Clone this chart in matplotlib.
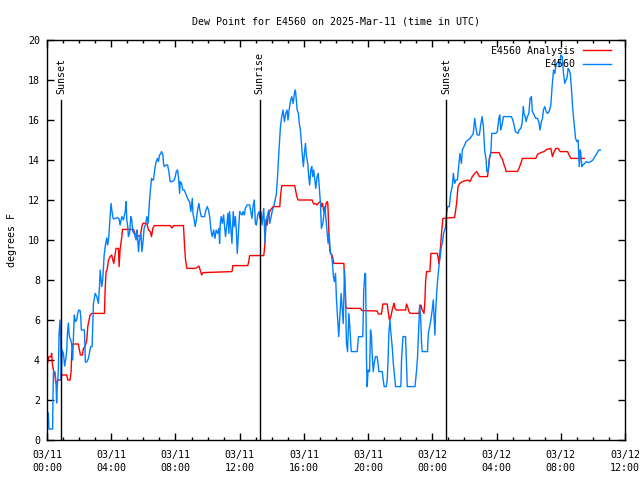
import matplotlib
matplotlib.use("Agg")
import matplotlib.pyplot as plt
import matplotlib.dates as mdates
import pandas as pd

# dew point readings (hours after 2025-03-11 00:00 UTC, deg F)
obs_hours = [
    0.08, 0.12, 0.35, 0.37, 0.40, 0.50, 0.56, 0.60, 0.64, 0.71, 0.75, 0.81, 0.85, 0.89,
    0.94, 1.02, 1.10, 1.19, 1.23, 1.27, 1.33, 1.39, 1.48, 1.54, 1.60, 1.64, 1.70, 1.77,
    1.85, 1.91, 1.98, 2.06, 2.10, 2.14, 2.33, 2.39, 2.48, 2.58, 2.64, 2.72, 2.81, 2.85,
    2.89, 3.00, 3.10, 3.20, 3.27, 3.31, 3.41, 3.47, 3.56, 3.64, 3.72, 3.78, 3.85, 3.93,
    3.99, 4.05, 4.10, 4.14, 4.26, 4.39, 4.49, 4.55, 4.66, 4.76, 4.87, 4.93, 4.97, 5.03,
    5.07, 5.14, 5.22, 5.28, 5.34, 5.43, 5.55, 5.60, 5.64, 5.70, 5.76, 5.85, 5.91, 5.97,
    6.05, 6.13, 6.22, 6.30, 6.34, 6.38, 6.43, 6.51, 6.55, 6.63, 6.72, 6.80, 6.88, 6.94,
    7.01, 7.09, 7.13, 7.22, 7.26, 7.30, 7.42, 7.51, 7.59, 7.67, 7.80, 7.92, 7.99, 8.05,
    8.13, 8.19, 8.26, 8.30, 8.38, 8.46, 8.55, 8.63, 8.71, 8.80, 8.88, 8.96, 9.05, 9.09,
    9.17, 9.23, 9.30, 9.38, 9.46, 9.52, 9.61, 9.71, 9.81, 9.90, 9.98, 10.06, 10.13, 10.21,
    10.29, 10.38, 10.46, 10.54, 10.63, 10.71, 10.75,
    10.79, 10.85, 10.92, 11.00, 11.06, 11.12, 11.21, 11.27, 11.33, 11.37, 11.46, 11.52,
    11.60, 11.67, 11.73, 11.79, 11.85, 11.92, 12.00, 12.06, 12.15, 12.21, 12.29, 12.35,
    12.46, 12.62, 12.71, 12.77, 12.83, 12.91, 12.98, 13.04, 13.12, 13.21, 13.25, 13.33,
    13.39, 13.50, 13.58, 13.64, 13.71, 13.81, 13.87, 13.96, 14.04, 14.12, 14.21, 14.29,
    14.37, 14.45, 14.54, 14.62, 14.70, 14.79, 14.87, 14.95, 15.01, 15.08, 15.16, 15.24,
    15.33, 15.41, 15.47, 15.53, 15.58, 15.66, 15.70, 15.78, 15.85, 15.91, 15.97, 16.03,
    16.10, 16.16, 16.24, 16.30, 16.36, 16.43, 16.49, 16.55, 16.61, 16.68, 16.74, 16.82,
    16.89, 16.95, 17.03, 17.09, 17.18, 17.24, 17.30, 17.36, 17.45, 17.51, 17.57, 17.65,
    17.72, 17.78, 17.84, 17.90, 17.97, 18.03, 18.11, 18.17, 18.24, 18.32, 18.38, 18.45,
    18.53, 18.59, 18.65, 18.72, 18.80, 18.86, 18.95, 19.32, 19.40, 19.67, 19.73, 19.80,
    19.84, 19.90, 19.94, 20.00, 20.09, 20.15, 20.21, 20.25, 20.32, 20.38, 20.46, 20.56,
    20.63, 20.67, 20.88, 20.94, 21.00, 21.13, 21.19, 21.25, 21.29, 21.36, 21.42, 21.50,
    21.57, 21.63, 21.71, 22.04, 22.08, 22.17, 22.33, 22.38, 22.44, 22.92, 22.96, 23.02,
    23.08, 23.14, 23.21, 23.27, 23.33, 23.37, 23.70, 23.75, 23.83, 23.91, 23.99, 24.06,
    24.12, 24.16, 24.20, 24.27, 24.33, 24.41, 24.49, 24.56, 24.62, 24.70, 24.77, 24.83,
    24.89, 24.95,
    25.06, 25.14, 25.24, 25.31, 25.39, 25.47, 25.56, 25.64, 25.72, 25.81, 25.87, 25.97,
    26.10, 26.22, 26.35, 26.43, 26.55, 26.64, 26.72, 26.80, 26.93, 27.01, 27.10, 27.18,
    27.26, 27.35, 27.39, 27.47, 27.55, 27.64, 27.70, 27.95, 28.05, 28.14, 28.20, 28.26,
    28.34, 28.43, 28.93, 29.01, 29.09, 29.17, 29.34, 29.40, 29.51, 29.59, 29.67, 29.71,
    29.78, 29.84, 29.92, 30.01, 30.09, 30.17, 30.23, 30.34, 30.44, 30.55, 30.63, 30.71,
    30.79, 30.86, 30.92, 31.00, 31.09, 31.17, 31.27, 31.38, 31.46, 31.55, 31.63, 31.69,
    31.75, 31.84, 31.92, 32.00, 32.09, 32.17, 32.25, 32.32, 32.38, 32.46, 32.52, 32.59,
    32.67, 32.75, 32.83, 32.92, 33.00, 33.08, 33.15, 33.21, 33.25, 33.31, 33.37, 33.50,
    33.58, 33.71, 33.87, 34.00, 34.12, 34.25, 34.37, 34.46,
]
obs_dewpt = [
    1.35, 0.55, 0.55, 2.0, 3.4, 3.4, 2.85, 1.85, 2.67, 3.5, 5.3, 6.0, 5.0, 3.0,
    4.5, 4.33, 3.7, 4.17, 4.5, 5.3, 5.85, 5.17, 5.0, 4.75, 4.0, 5.0, 6.25, 5.92,
    6.0, 6.33, 6.5, 6.47, 6.17, 5.5, 5.5, 3.9, 3.9, 4.08, 4.33, 4.67, 4.67, 5.67,
    6.8, 7.33, 7.17, 6.83, 7.67, 8.5, 7.67, 8.0, 9.25, 9.75, 10.1, 9.75, 10.17, 11.17,
    11.83, 11.42, 11.17, 11.05, 11.08, 11.12, 11.05, 10.75, 11.17, 11.0, 11.42, 11.92, 11.0, 10.67,
    10.17, 10.33, 11.17, 11.0, 10.42, 10.33, 10.0, 10.5, 10.17, 9.42, 10.0, 10.33, 9.42, 9.83,
    10.58, 10.75, 11.17, 10.83, 11.42, 11.92, 12.42, 13.08, 13.0, 13.0, 13.58, 13.92, 14.08, 13.92,
    14.25, 14.33, 14.42, 14.25, 13.83, 13.67, 13.75, 13.75, 13.42, 12.92, 12.92, 13.0, 13.17, 13.42,
    13.5, 13.17, 12.33, 12.92, 12.83, 12.5, 12.5, 12.33, 12.17, 12.0, 11.92, 11.42, 12.08, 11.33,
    11.0, 10.67, 11.0, 11.5, 11.83, 11.5, 11.17, 11.17, 11.17, 11.5, 11.67, 11.5, 11.17, 10.5,
    10.17, 10.5, 10.08, 10.5, 10.33, 10.58, 9.83,
    10.83, 11.17, 10.83, 11.25, 10.67, 10.17, 10.83, 11.33, 10.33, 11.42, 10.5, 9.83,
    11.42, 10.67, 11.17, 10.5, 9.33, 10.33, 11.42, 11.33, 11.25, 11.42, 11.25, 11.58,
    11.75, 11.75, 11.33, 11.08, 11.67, 12.0, 10.83, 10.75, 11.25, 11.42, 11.08, 11.42,
    10.75, 11.58, 9.83, 11.0, 11.17, 11.5, 10.83, 11.17, 11.5, 11.67, 12.0, 12.33,
    13.33, 14.5, 15.67, 16.17, 16.5, 15.92, 16.33, 16.5, 16.0, 16.5, 16.92, 17.17,
    16.83, 17.33, 17.5, 17.0, 16.5, 16.33, 15.92, 15.5, 14.83, 14.17, 13.67, 14.33,
    14.83, 14.17, 13.83, 13.17, 12.75, 13.5, 13.67, 13.17, 13.5, 13.0, 12.58, 13.17,
    13.33, 12.75, 11.83, 10.58, 10.83, 11.25, 11.67, 11.17, 10.33, 9.83, 10.33, 9.33,
    9.25, 8.83, 8.17, 7.92, 8.33, 7.0, 6.0, 5.17, 6.17, 7.33, 6.67, 5.83,
    8.5, 7.33, 4.83, 4.42, 6.33, 5.67, 4.42, 4.42, 5.17, 5.17, 7.5, 8.33,
    8.33, 4.0, 2.67, 3.5, 3.42, 5.5, 5.17, 4.33, 3.42, 3.83, 4.17, 4.17,
    3.75, 3.42, 3.42, 3.0, 2.67, 2.67, 3.0, 4.17, 5.33, 6.0, 5.33, 4.67,
    3.83, 3.33, 2.67, 2.67, 4.0, 5.17, 5.17, 4.0, 2.67, 2.67, 3.0, 3.5,
    4.17, 5.33, 6.75, 6.17, 4.83, 4.42, 4.42, 5.33, 5.67, 6.0, 6.5, 7.0,
    6.0, 5.25, 6.33, 7.33, 8.0, 8.67, 9.17, 9.67, 9.83, 10.33, 10.5, 10.67,
    11.33, 11.67,
    11.67, 12.33, 12.67, 13.33, 12.83, 13.0, 13.0, 13.67, 14.33, 13.83, 14.5, 14.67,
    14.92, 15.0, 15.08, 15.17, 15.33, 16.08, 15.58, 15.25, 15.25, 15.75, 16.17, 15.67,
    14.5, 14.0, 13.42, 13.42, 14.0, 14.33, 15.33, 15.33, 15.42, 16.08, 16.25, 15.5,
    15.75, 16.17, 16.17, 16.0, 15.75, 15.42, 15.33, 15.5, 15.58, 15.83, 16.67, 16.33,
    16.17, 15.92, 16.17, 16.33, 17.08, 17.17, 16.42, 16.25, 16.08, 16.08, 15.92, 15.5,
    15.92, 16.08, 16.5, 16.67, 16.42, 16.33, 16.42, 16.75, 17.67, 18.5, 18.33, 18.67,
    18.83, 18.92, 18.67, 19.25, 19.17, 18.33, 17.83, 18.0, 18.08, 18.58, 18.5, 18.33,
    17.5, 16.5, 15.83, 15.08, 14.92, 15.0, 13.67, 14.5, 14.33, 13.67, 13.75, 13.83,
    13.92, 13.87, 13.92, 14.0, 14.17, 14.33, 14.5, 14.5,
]

# analysis series
ana_hours = [
    0.02, 0.12, 0.25, 0.29, 0.33, 0.40, 0.50, 0.54, 0.62, 0.67, 0.87, 0.92, 1.23, 1.29,
    1.44, 1.50, 1.54, 1.60, 1.95, 2.02, 2.08, 2.20, 2.27, 2.37, 2.48, 2.54, 2.62, 2.68,
    2.79, 3.58, 3.62, 3.68, 3.74, 3.83, 3.93, 4.03, 4.10, 4.16, 4.24, 4.30, 4.45, 4.49,
    4.55, 4.66, 4.70, 5.39, 5.47, 5.60, 5.80, 5.91, 5.97, 6.22, 6.32, 6.43, 6.51, 6.59,
    6.68, 7.67, 7.78, 7.88, 8.50, 8.57, 8.63, 8.71, 9.23, 9.34, 9.46, 9.54, 9.63, 9.71,
    11.52, 11.58, 12.50, 12.56, 12.62, 13.50, 13.56, 13.62, 13.66, 13.71, 13.77, 13.83,
    13.91, 14.00, 14.08, 14.50, 14.54, 14.62, 15.43, 15.52, 15.58, 15.64, 16.51, 16.61,
    16.72, 16.82, 16.93, 17.03, 17.09, 17.16, 17.24, 17.32, 17.38, 17.45, 17.49, 17.55,
    17.61, 17.68, 17.78, 17.86, 18.49, 18.55, 18.61, 18.70, 19.53, 19.61, 20.56, 20.63,
    20.83, 20.92, 21.19, 21.25, 21.33, 21.42, 21.50, 21.58, 21.62, 21.67, 21.75, 22.33,
    22.39, 22.46, 22.54, 22.64, 23.16, 23.22, 23.29, 23.37, 23.48, 23.54, 23.58, 23.64,
    23.85, 23.91, 24.31, 24.37, 24.41, 24.45, 24.51, 24.58, 24.62, 24.66, 25.39, 25.45,
    25.51, 25.60, 25.70, 25.87, 26.22, 26.35, 26.49, 26.64, 26.76, 26.85, 26.93, 27.43,
    27.49, 27.55, 27.64, 28.16, 28.26, 28.37, 28.47, 28.55, 28.59, 29.30, 29.40, 29.51,
    29.61, 30.44, 30.55, 30.76, 30.96, 31.13, 31.38, 31.48, 31.59, 31.69, 31.84, 31.96,
    32.42, 32.52, 32.63, 33.46,
]
ana_dewpt = [
    3.8, 4.17, 4.17, 4.33, 3.83, 3.5, 3.25, 2.87, 2.87, 3.0, 3.0, 3.25, 3.25, 3.0,
    3.0, 3.42, 4.33, 4.8, 4.8, 4.5, 4.25, 4.25, 4.58, 4.67, 5.0, 5.67, 6.0, 6.25,
    6.33, 6.33, 7.5, 8.42, 8.5, 9.0, 9.17, 9.25, 9.0, 8.83, 9.25, 9.58, 9.58, 8.67,
    9.5, 10.17, 10.53, 10.53, 10.33, 10.25, 10.17, 10.67, 10.83, 10.83, 10.5, 10.42, 10.17, 10.58,
    10.72, 10.72, 10.6, 10.72, 10.72, 9.67, 9.0, 8.58, 8.58, 8.62, 8.7, 8.5, 8.25, 8.37,
    8.42, 8.72, 8.72, 8.9, 9.22, 9.22, 9.67, 10.67, 11.0, 10.75, 11.17, 11.33,
    11.5, 11.58, 11.67, 11.67, 12.17, 12.72, 12.72, 12.33, 12.12, 12.0, 12.0, 11.8,
    11.83, 11.75, 11.87, 11.92, 11.67, 11.83, 11.42, 11.42, 11.83, 11.92, 11.83, 10.5,
    9.5, 9.33, 9.2, 8.83, 8.83, 7.67, 6.67, 6.58, 6.58, 6.47, 6.45, 6.3,
    6.3, 6.8, 6.8, 6.42, 6.0, 6.17, 6.5, 6.75, 6.83, 6.58, 6.5, 6.5,
    6.8, 6.67, 6.42, 6.33, 6.33, 6.58, 6.75, 6.5, 6.33, 7.0, 7.92, 8.42,
    8.42, 9.33, 9.33, 9.08, 8.83, 9.17, 9.67, 10.42, 10.75, 11.08, 11.13, 11.5,
    11.83, 12.67, 12.83, 12.92, 13.0, 12.92, 13.17, 13.33, 13.42, 13.3, 13.17, 13.17,
    13.5, 14.08, 14.37, 14.37, 14.17, 14.03, 13.75, 13.58, 13.43, 13.43, 13.58, 13.83,
    14.08, 14.08, 14.28, 14.37, 14.42, 14.53, 14.58, 14.17, 14.42, 14.58, 14.58, 14.42,
    14.42, 14.25, 14.08, 14.08,
]

# sun events (hours after start)
event_hours = [0.90, 13.25, 24.85]
event_names = ["Sunset", "Sunrise", "Sunset"]

start = pd.Timestamp("2025-03-11 00:00")
obs_t = start + pd.to_timedelta(obs_hours, unit="h")
ana_t = start + pd.to_timedelta(ana_hours, unit="h")
event_t = start + pd.to_timedelta(event_hours, unit="h")

plt.rcParams["font.family"] = ["DejaVu Sans Mono"]
plt.rcParams["font.size"] = 7.2

fig = plt.figure(figsize=(6.4, 4.8), dpi=100)
ax = fig.add_axes([47 / 640, 40 / 480, 578 / 640, 400 / 480])

ax.plot(ana_t, ana_dewpt, color="#ff0000", lw=1.0, label="E4560 Analysis")
ax.plot(obs_t, obs_dewpt, color="#0080ff", lw=1.0, label="E4560")

# sunrise / sunset markers
for t, name in zip(event_t, event_names):
    ax.axvline(t, ymin=0, ymax=0.85, color="black", lw=1.0)
    ax.text(t, 17.3, name, rotation=90, ha="center", va="bottom")

ax.set_xlim(start, start + pd.Timedelta(hours=36))
ax.set_ylim(0, 20)
ax.set_yticks(range(0, 21, 2))

ax.xaxis.set_major_locator(mdates.HourLocator(byhour=range(0, 24, 4)))
ax.xaxis.set_minor_locator(mdates.HourLocator())
ax.xaxis.set_major_formatter(mdates.DateFormatter("%m/%d\n%H:%M"))

ax.tick_params(which="both", direction="in", top=True, right=True, width=1.0)
ax.tick_params(which="major", length=5)
ax.tick_params(axis="x", which="major", pad=7)
ax.tick_params(axis="y", which="major", pad=5)
ax.tick_params(which="minor", length=2.5)
for side in ax.spines.values():
    side.set_linewidth(1.0)

ax.set_ylabel("degrees F", labelpad=8)
ax.set_title("Dew Point for E4560 on 2025-Mar-11 (time in UTC)",
             fontsize=7.2, pad=11)

ax.legend(loc="upper right", bbox_to_anchor=(0.975, 0.985), frameon=False,
          markerfirst=False, handlelength=2.8, handletextpad=0.8,
          labelspacing=0.35, borderaxespad=0.0, borderpad=0.0)

fig.canvas.draw()
for lbl in ax.get_xticklabels():
    lbl.set_linespacing(1.4)

fig.savefig("out.png", dpi=100)
